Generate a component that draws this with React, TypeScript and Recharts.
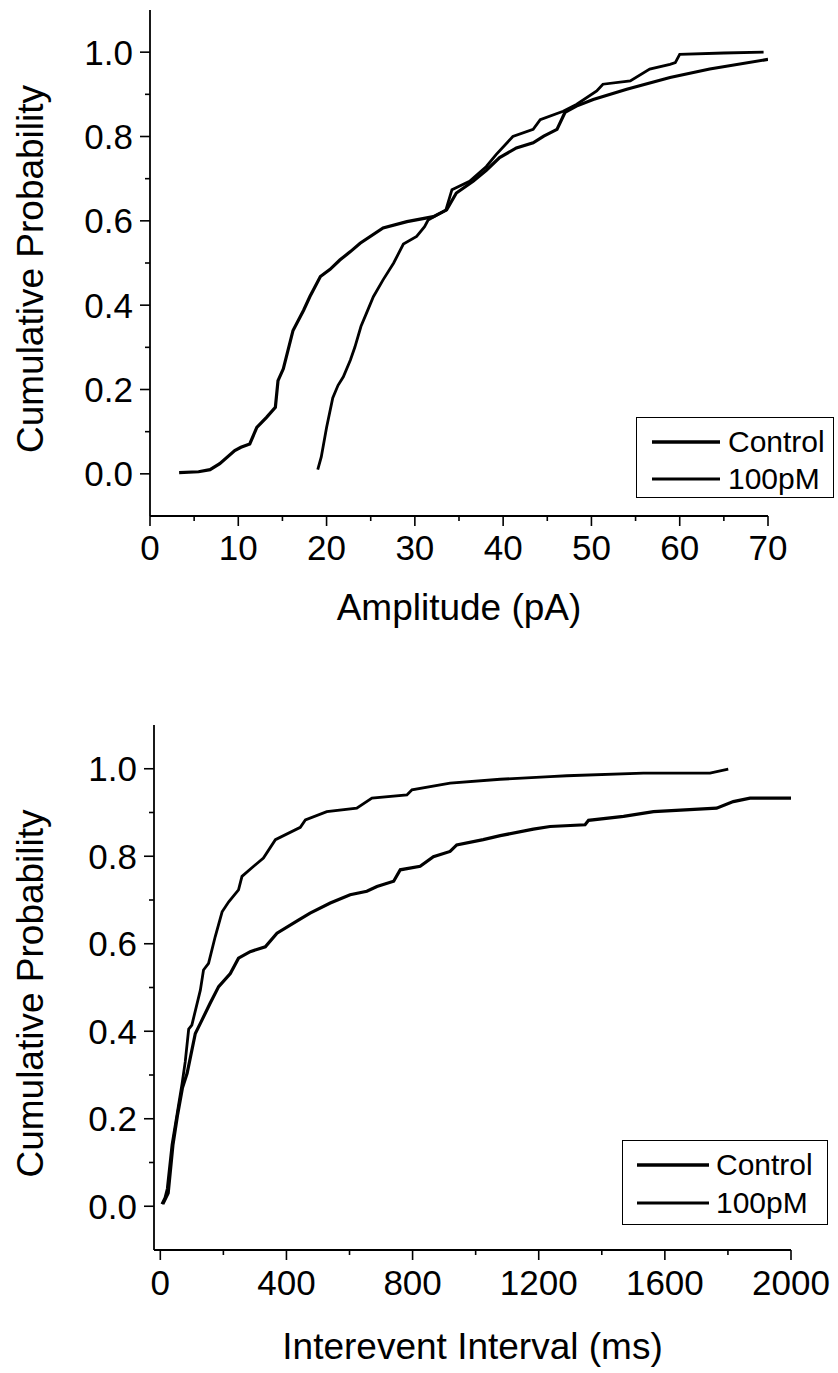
import React from 'react'
import { LineChart, Line, XAxis, YAxis, Legend } from 'recharts'

// amplitude distribution (pA) -> cumulative probability
const ampControlX = [3.3, 5.5, 6.8, 7.9, 9.6, 10.3, 11.3, 12.1, 13.2, 14.2, 14.5, 15.1, 16.2, 17.4, 18.1, 18.5, 19.3, 20.4, 21.5, 22.7, 23.8, 26.4, 29.1, 32.1, 33.6, 34.7, 36.6, 38.1, 39.6, 41.5, 43.4, 44.6, 46.1, 47.0, 48.3, 50.2, 54.0, 58.9, 63.4, 70.0]
const ampControlP = [0.003, 0.005, 0.01, 0.024, 0.055, 0.063, 0.071, 0.11, 0.134, 0.158, 0.221, 0.249, 0.34, 0.388, 0.42, 0.436, 0.468, 0.485, 0.507, 0.527, 0.547, 0.583, 0.598, 0.61, 0.626, 0.666, 0.694, 0.72, 0.75, 0.773, 0.785, 0.801, 0.817, 0.857, 0.872, 0.888, 0.912, 0.94, 0.96, 0.983]
const amp100X = [19.0, 19.4, 20.0, 20.7, 21.3, 21.9, 22.7, 23.2, 23.9, 24.5, 25.3, 26.4, 27.6, 28.7, 30.2, 31.1, 31.5, 32.5, 33.5, 34.2, 36.2, 38.1, 39.2, 41.1, 43.4, 44.2, 46.8, 48.3, 50.6, 51.3, 54.4, 56.6, 58.9, 59.5, 60.0, 65.0, 69.5]
const amp100P = [0.01, 0.04, 0.11, 0.18, 0.21, 0.23, 0.27, 0.30, 0.35, 0.38, 0.42, 0.46, 0.50, 0.545, 0.563, 0.586, 0.602, 0.614, 0.625, 0.674, 0.694, 0.729, 0.757, 0.80, 0.817, 0.84, 0.86, 0.876, 0.908, 0.924, 0.932, 0.96, 0.971, 0.975, 0.995, 0.998, 1.0]

// interevent interval (ms) -> cumulative probability
const ivlControlX = [8, 25, 40, 55, 70, 85, 111, 127, 158, 185, 222, 248, 285, 333, 370, 438, 475, 539, 602, 655, 687, 740, 761, 824, 866, 919, 940, 1024, 1078, 1183, 1236, 1347, 1358, 1469, 1564, 1764, 1817, 1870, 2000]
const ivlControlP = [0.005, 0.03, 0.14, 0.21, 0.27, 0.304, 0.395, 0.418, 0.464, 0.502, 0.532, 0.567, 0.582, 0.593, 0.624, 0.654, 0.670, 0.693, 0.712, 0.720, 0.731, 0.743, 0.769, 0.777, 0.799, 0.811, 0.826, 0.838, 0.847, 0.862, 0.868, 0.872, 0.882, 0.891, 0.902, 0.910, 0.925, 0.933, 0.933]
const ivl100X = [5, 15, 22, 37, 53, 69, 79, 90, 100, 127, 137, 153, 174, 196, 217, 248, 259, 296, 327, 365, 444, 460, 528, 623, 671, 782, 798, 919, 1078, 1236, 1289, 1532, 1743, 1801]
const ivl100P = [0.005, 0.02, 0.04, 0.14, 0.21, 0.28, 0.33, 0.405, 0.414, 0.494, 0.54, 0.555, 0.616, 0.673, 0.696, 0.723, 0.754, 0.777, 0.796, 0.838, 0.866, 0.883, 0.902, 0.910, 0.933, 0.940, 0.952, 0.967, 0.976, 0.982, 0.984, 0.990, 0.990, 0.999]

// ticks
const yMajor = [0, 0.2, 0.4, 0.6, 0.8, 1.0]
const yMinor = [0.1, 0.3, 0.5, 0.7, 0.9]
const ampMajor = [0, 10, 20, 30, 40, 50, 60, 70]
const ampMinor = [5, 15, 25, 35, 45, 55, 65]
const ivlMajor = [0, 400, 800, 1200, 1600, 2000]
const ivlMinor = [200, 600, 1000, 1400, 1800]

const seriesNames = ['Control', '100pM']

const FONT = '"Liberation Sans", Arial, Helvetica, sans-serif'

const zip = (xs: number[], ps: number[]) => xs.map((x, i) => ({ x, p: ps[i] }))
const sorted = (a: number[], b: number[]) => [...a, ...b].sort((m, n) => m - n)

const makeYTick = (major: number[]) => ({ x, y, payload }: any) => {
  const isMajor = major.includes(payload.value)
  return (
    <g>
      <line x1={x} x2={x - (isMajor ? 10 : 5)} y1={y} y2={y} stroke="#000" strokeWidth={1.6} />
      {isMajor && (
        <text x={x - 17} y={y} dy="0.36em" textAnchor="end" fontSize={35} fontFamily={FONT} fill="#000">
          {payload.value.toFixed(1)}
        </text>
      )}
    </g>
  )
}

const makeXTick = (major: number[], gap: number) => ({ x, y, payload }: any) => {
  const isMajor = major.includes(payload.value)
  return (
    <g>
      <line x1={x} x2={x} y1={y} y2={y + (isMajor ? 10 : 5)} stroke="#000" strokeWidth={1.6} />
      {isMajor && (
        <text x={x} y={y + gap} dy="0.71em" textAnchor="middle" fontSize={35} fontFamily={FONT} fill="#000">
          {payload.value}
        </text>
      )}
    </g>
  )
}

const yTitle = (p: any) => {
  const vb = p.viewBox
  const x = vb.x + 43
  const y = vb.y + vb.height / 2 + 6
  return (
    <text x={x} y={y} transform={`rotate(-90, ${x}, ${y})`} textAnchor="middle" fontSize={37} fontFamily={FONT} fill="#000">
      Cumulative Probability
    </text>
  )
}

const xTitle = (text: string, dy: number) => (p: any) => {
  const vb = p.viewBox
  return (
    <text x={vb.x + vb.width / 2} y={vb.y + dy} textAnchor="middle" fontSize={37} fontFamily={FONT} fill="#000">
      {text}
    </text>
  )
}

type Box = { w: number; h: number; rows: number[]; lineX: number; lineLen: number; textX: number }

const boxLegend = (box: Box) => (props: any) => {
  const items = [...(props.payload || [])].sort((a: any, b: any) => seriesNames.indexOf(a.value) - seriesNames.indexOf(b.value))
  return (
    <div style={{ position: 'relative', width: box.w, height: box.h, border: '1.5px solid #000', boxSizing: 'border-box', background: '#fff' }}>
      {items.map((e: any, i: number) => (
        <div key={e.value} style={{ position: 'absolute', left: 0, top: box.rows[i] - 20, height: 40, width: box.w }}>
          <svg width={box.lineX + box.lineLen} height={40} style={{ position: 'absolute', left: 0, top: 0 }}>
            <line x1={box.lineX} x2={box.lineX + box.lineLen} y1={20} y2={20} stroke={e.color} strokeWidth={i === 0 ? 3.4 : 2.8} />
          </svg>
          <span style={{ position: 'absolute', left: box.textX, top: 0, lineHeight: '40px', fontSize: 30, fontFamily: FONT, color: '#000', whiteSpace: 'nowrap' }}>
            {e.value}
          </span>
        </div>
      ))}
    </div>
  )
}

export default function App() {
  const axisLine = { stroke: '#000', strokeWidth: 1.8 }
  return (
    <div style={{ position: 'absolute', left: 0, top: 0, width: 838, height: 1373, background: '#fff' }}>
      <LineChart width={838} height={686} margin={{ top: 10, right: 70, left: 0, bottom: 50 }}>
        <XAxis
          type="number"
          dataKey="x"
          domain={[0, 70]}
          ticks={sorted(ampMajor, ampMinor)}
          interval={0}
          allowDataOverflow
          height={120}
          tickSize={0}
          tickMargin={0}
          tickLine={false}
          axisLine={axisLine}
          tick={makeXTick(ampMajor, 19)}
          label={xTitle('Amplitude (pA)', 104)}
        />
        <YAxis
          type="number"
          domain={[-0.1, 1.1]}
          ticks={sorted(yMajor, yMinor)}
          interval={0}
          allowDataOverflow
          width={150}
          tickSize={0}
          tickMargin={0}
          tickLine={false}
          axisLine={axisLine}
          tick={makeYTick(yMajor)}
          label={yTitle}
        />
        <Legend
          layout="horizontal"
          verticalAlign="middle"
          align="center"
          content={boxLegend({ w: 198, h: 81, rows: [24, 61], lineX: 15, lineLen: 68, textX: 91 })}
          wrapperStyle={{ left: 636, top: 417, right: 'auto', bottom: 'auto', width: 198, height: 81 }}
        />
        <Line data={zip(ampControlX, ampControlP)} dataKey="p" name={seriesNames[0]} type="linear" stroke="#000" strokeWidth={3.2} dot={false} isAnimationActive={false} />
        <Line data={zip(amp100X, amp100P)} dataKey="p" name={seriesNames[1]} type="linear" stroke="#000" strokeWidth={2.8} dot={false} isAnimationActive={false} />
      </LineChart>
      <LineChart width={838} height={687} margin={{ top: 39, right: 47, left: 0, bottom: 3 }}>
        <XAxis
          type="number"
          dataKey="x"
          domain={[-20, 2000]}
          ticks={sorted(ivlMajor, ivlMinor)}
          interval={0}
          allowDataOverflow
          height={120}
          tickSize={0}
          tickMargin={0}
          tickLine={false}
          axisLine={axisLine}
          tick={makeXTick(ivlMajor, 20)}
          label={xTitle('Interevent Interval (ms)', 109)}
        />
        <YAxis
          type="number"
          domain={[-0.1, 1.1]}
          ticks={sorted(yMajor, yMinor)}
          interval={0}
          allowDataOverflow
          width={154}
          tickSize={0}
          tickMargin={0}
          tickLine={false}
          axisLine={axisLine}
          tick={makeYTick(yMajor)}
          label={yTitle}
        />
        <Legend
          layout="horizontal"
          verticalAlign="middle"
          align="center"
          content={boxLegend({ w: 206, h: 85, rows: [24, 62], lineX: 14, lineLen: 72, textX: 93 })}
          wrapperStyle={{ left: 622, top: 454, right: 'auto', bottom: 'auto', width: 206, height: 85 }}
        />
        <Line data={zip(ivlControlX, ivlControlP)} dataKey="p" name={seriesNames[0]} type="linear" stroke="#000" strokeWidth={3.2} dot={false} isAnimationActive={false} />
        <Line data={zip(ivl100X, ivl100P)} dataKey="p" name={seriesNames[1]} type="linear" stroke="#000" strokeWidth={2.8} dot={false} isAnimationActive={false} />
      </LineChart>
    </div>
  )
}
